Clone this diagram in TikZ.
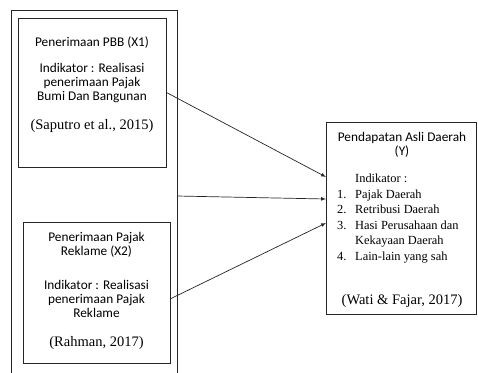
\documentclass[tikz,border=0pt]{standalone}
\usepackage{fontspec}
\setmainfont{Liberation Serif}
\newfontfamily\calibri{Carlito}
\usetikzlibrary{arrows}
\tikzset{
  box/.style = {shape=rectangle, draw=black!85, line width=0.9pt, inner sep=0pt},
  sans/.style = {align=center, inner sep=0pt, font=\calibri\fontsize{13.3}{14}\selectfont},
  cite/.style = {align=center, inner sep=0pt, font=\fontsize{14.5}{16}\selectfont},
  item/.style = {anchor=base west, inner sep=0pt, font=\fontsize{12.4}{15}\selectfont},
  link/.style = {draw=black!85, line width=0.7pt, -latex}
}
\begin{document}
\begin{tikzpicture}[x=1pt, y=-1pt]
\clip (0,0) rectangle (478,372);
\fill[white] (0,0) rectangle (478,372);

% outer frame and the two inputs
\node[box, minimum width=166pt, minimum height=380pt] (outer) at (94,200) {};
\node[box, minimum width=148pt, minimum height=149pt] (x1box) at (92,92.5) {};
\node[box, minimum width=147pt, minimum height=141pt] (x2box) at (96.5,292.5) {};
% output
\node[box, minimum width=150pt, minimum height=192pt] (ybox) at (401.5,218) {};

\node[sans] (x1title) at (92,43) {Penerimaan PBB (X1)};
\node[sans] (x1ind) at (92,83.5) {Indikator : Realisasi\\penerimaan Pajak\\Bumi Dan Bangunan};
\node[cite] (x1cite) at (92,126) {(Saputro et al., 2015)};

\node[sans] (x2title) at (96.5,244.5) {Penerimaan Pajak\\Reklame (X2)};
\node[sans] (x2ind) at (96.5,298.5) {Indikator : Realisasi\\penerimaan Pajak\\Reklame};
\node[cite] (x2cite) at (96.5,343) {(Rahman, 2017)};

\node[sans] (ytitle) at (402,145) {Pendapatan Asli Daerah\\(Y)};
\node[item] (yind) at (355,182.5) {Indikator :};
\node[item] (n1) at (337,198) {1.};
\node[item] (t1) at (355,198) {Pajak Daerah};
\node[item] (n2) at (337,213.5) {2.};
\node[item] (t2) at (355,213.5) {Retribusi Daerah};
\node[item] (n3) at (337,229) {3.};
\node[item] (t3) at (355,229) {Hasi Perusahaan dan};
\node[item] (t3b) at (355,244.5) {Kekayaan Daerah};
\node[item] (n4) at (337,260) {4.};
\node[item] (t4) at (355,260) {Lain-lain yang sah};
\node[cite] (ycite) at (402,301) {(Wati \& Fajar, 2017)};

\coordinate (in1) at (326,177);
\coordinate (in2) at (326,199);
\coordinate (in3) at (326,223);
\coordinate (out2) at (177,196);
\coordinate (out3) at (170,299);

\draw[link] (x1box.east) -- (in1);
\draw[link] (out2) -- (in2);
\draw[link] (out3) -- (in3);
\end{tikzpicture}
\end{document}
